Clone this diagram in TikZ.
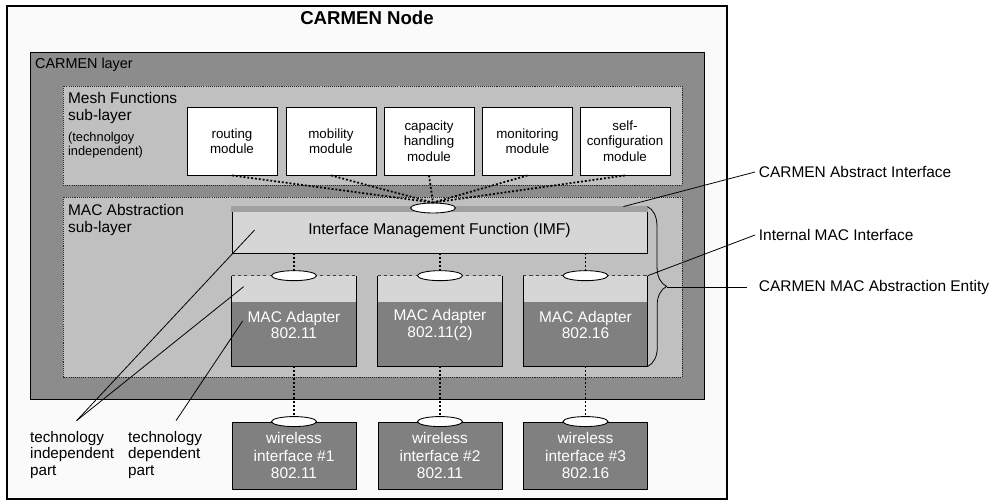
\documentclass[tikz,border=0pt]{standalone}
\usepackage{fontspec}
\setmainfont{Liberation Sans}
\usetikzlibrary{shapes.geometric,decorations.pathreplacing}

\definecolor{nodebg}{HTML}{FAFAFA}
\definecolor{layergray}{HTML}{8C8C8C}
\definecolor{subgray}{HTML}{C0C0C0}
\definecolor{imfgray}{HTML}{D6D6D6}
\definecolor{stripegray}{HTML}{A0A0A0}
\definecolor{adgray}{HTML}{808080}

\tikzset{
	lbl/.style={font=\fontsize{8.8}{9.8}\selectfont, align=left, inner sep=1pt},
	sidelbl/.style={font=\fontsize{8.8}{9.8}\selectfont, anchor=west, inner sep=2pt},
	module/.style={draw=black, fill=white, line width=0.5pt, minimum width=1.8cm, minimum height=1.36cm, align=center, inner sep=0pt, font=\fontsize{7.6}{8.7}\selectfont},
	port/.style={ellipse, draw=black, fill=white, line width=0.5pt, minimum width=0.9cm, minimum height=0.2cm, inner sep=0pt},
	adapter/.style={fill=adgray, minimum width=2.48cm, minimum height=1.8cm, inner sep=0pt},
	wireless/.style={draw=black, fill=adgray, line width=0.5pt, minimum width=2.48cm, minimum height=1.34cm, align=center, text=white, font=\fontsize{8.8}{9.7}\selectfont},
	whitetext/.style={align=center, text=white, font=\fontsize{8.8}{9.6}\selectfont},
	sublayer/.style={draw=black!85, fill=subgray, line width=0.5pt, dash pattern=on 0.6pt off 0.6pt},
	link/.style={line width=1pt, dash pattern=on 1.1pt off 1.1pt},
	adtop/.style={draw=black!75, line width=0.8pt, dash pattern=on 1.8pt off 1.8pt},
	callout/.style={line width=0.45pt},
}

\begin{document}
\begin{tikzpicture}[x=0.02cm, y=-0.02cm]
		\useasboundingbox (0,0) rectangle (995,501);
		%%%%% NODE AND LAYERS %%%%%
		\draw[fill=nodebg, line width=0.6pt] (7,6) rectangle (727,499);
		\node[font=\bfseries\fontsize{10.6}{12}\selectfont] (title) at (367,18) {CARMEN Node};
		
		\draw[fill=layergray, line width=0.5pt] (30,52) rectangle (704,399);
		\node[lbl, anchor=west, font=\fontsize{8.2}{9.8}\selectfont] (layerlbl) at (33,65) {CARMEN layer};
		
		\draw[sublayer] (63,86) rectangle (682,185);
		\node[lbl, anchor=west] (meshlbl) at (66,108) {Mesh Functions\\sub-layer};
		\node[lbl, anchor=west, font=\fontsize{7.3}{8.3}\selectfont] (meshnote) at (66,145) {(technolgoy\\independent)};
		
		\draw[sublayer] (63,197) rectangle (682,377);
		\node[lbl, anchor=west, font=\fontsize{8.8}{10.2}\selectfont] (maclbl) at (66,220) {MAC Abstraction\\sub-layer};
		
		%%%%% MESH MODULES %%%%%
		\node[module] (routing) at (232,141) {routing\\module};
		\node[module] (mobility) at (331,141) {mobility\\module};
		\node[module] (capacity) at (429,141) {capacity\\handling\\module};
		\node[module] (monitoring) at (527.5,141) {monitoring\\module};
		\node[module] (selfconf) at (625,141) {self-\\configuration\\module};
		
		%%%%% IMF %%%%%
		\node[draw=black, fill=imfgray, line width=0.5pt, minimum width=8.3cm, minimum height=0.92cm, font=\fontsize{8.9}{10}\selectfont] (imf) at (439.5,230) {Interface Management Function (IMF)};
		\fill[stripegray] ([shift={(-0.01cm,0.01cm)}]imf.north west) rectangle ([shift={(0.01cm,-0.1cm)}]imf.north east);
		\node[port] (imfport) at (433,208) {};
		\foreach \m in {routing,mobility,capacity,monitoring,selfconf}
			\draw[link] (\m.south) -- (imfport.north);
		
		%%%%% MAC ADAPTERS AND WIRELESS INTERFACES %%%%%
		\foreach \i/\x/\std/\wstd in {1/294/802.11/802.11, 2/440/802.11(2)/802.11, 3/585.5/802.16/802.16} {
			\node[adapter] (ad\i) at (\x,321) {};
			\fill[imfgray] (ad\i.north west) rectangle ([yshift=-0.52cm]ad\i.north east);
			\draw[line width=0.5pt] (ad\i.north west) -- (ad\i.south west) -- (ad\i.south east) -- (ad\i.north east);
			\draw[adtop] (ad\i.north west) -- (ad\i.north east);
			\node[whitetext] (adtext\i) at (\x,325) {MAC Adapter\\\std};
			\node[port] (adport\i) at (ad\i.north) {};
			\draw[link] (imf.south -| adport\i) -- (adport\i.north);
			\node[wireless] (wl\i) at (\x,455.5) {wireless\\interface \#\i\\\wstd};
			\node[port] (wlport\i) at (wl\i.north) {};
			\draw[link] (ad\i.south) -- (wlport\i.north);
		}
		
		%%%%% BRACE AND CALLOUTS %%%%%
		\draw[callout, decorate, decoration={brace, amplitude=0.38cm}] (imf.north east) -- (ad3.south east);
		\coordinate (brtip) at (667,287);
		
		\node[sidelbl] (abslbl) at (755,172) {CARMEN Abstract Interface};
		\node[sidelbl] (intlbl) at (755,235) {Internal MAC Interface};
		\node[sidelbl] (entlbl) at (755,287) {CARMEN MAC Abstraction Entity};
		\draw[callout] (abslbl.west) -- ([xshift=-0.48cm]imf.north east);
		\draw[callout] (intlbl.west) -- (ad3.north east);
		\draw[callout] (brtip) -- ([xshift=-0.16cm]entlbl.west);
		
		\node[lbl, anchor=west, font=\fontsize{8.7}{9.5}\selectfont] (indlbl) at (28,455) {technology\\independent\\part};
		\node[lbl, anchor=west, font=\fontsize{8.7}{9.5}\selectfont] (deplbl) at (126,455) {technology\\dependent\\part};
		\draw[callout] ([shift={(0.09cm,0.17cm)}]indlbl.north) -- ([xshift=0.46cm]imf.west);
		\draw[callout] ([shift={(0.09cm,0.17cm)}]indlbl.north) -- ([shift={(0.24cm,-0.22cm)}]ad1.north west);
		\draw[callout] ([shift={(0.22cm,0.17cm)}]deplbl.north) -- ([xshift=0.22cm]ad1.west);
	\end{tikzpicture}
\end{document}
